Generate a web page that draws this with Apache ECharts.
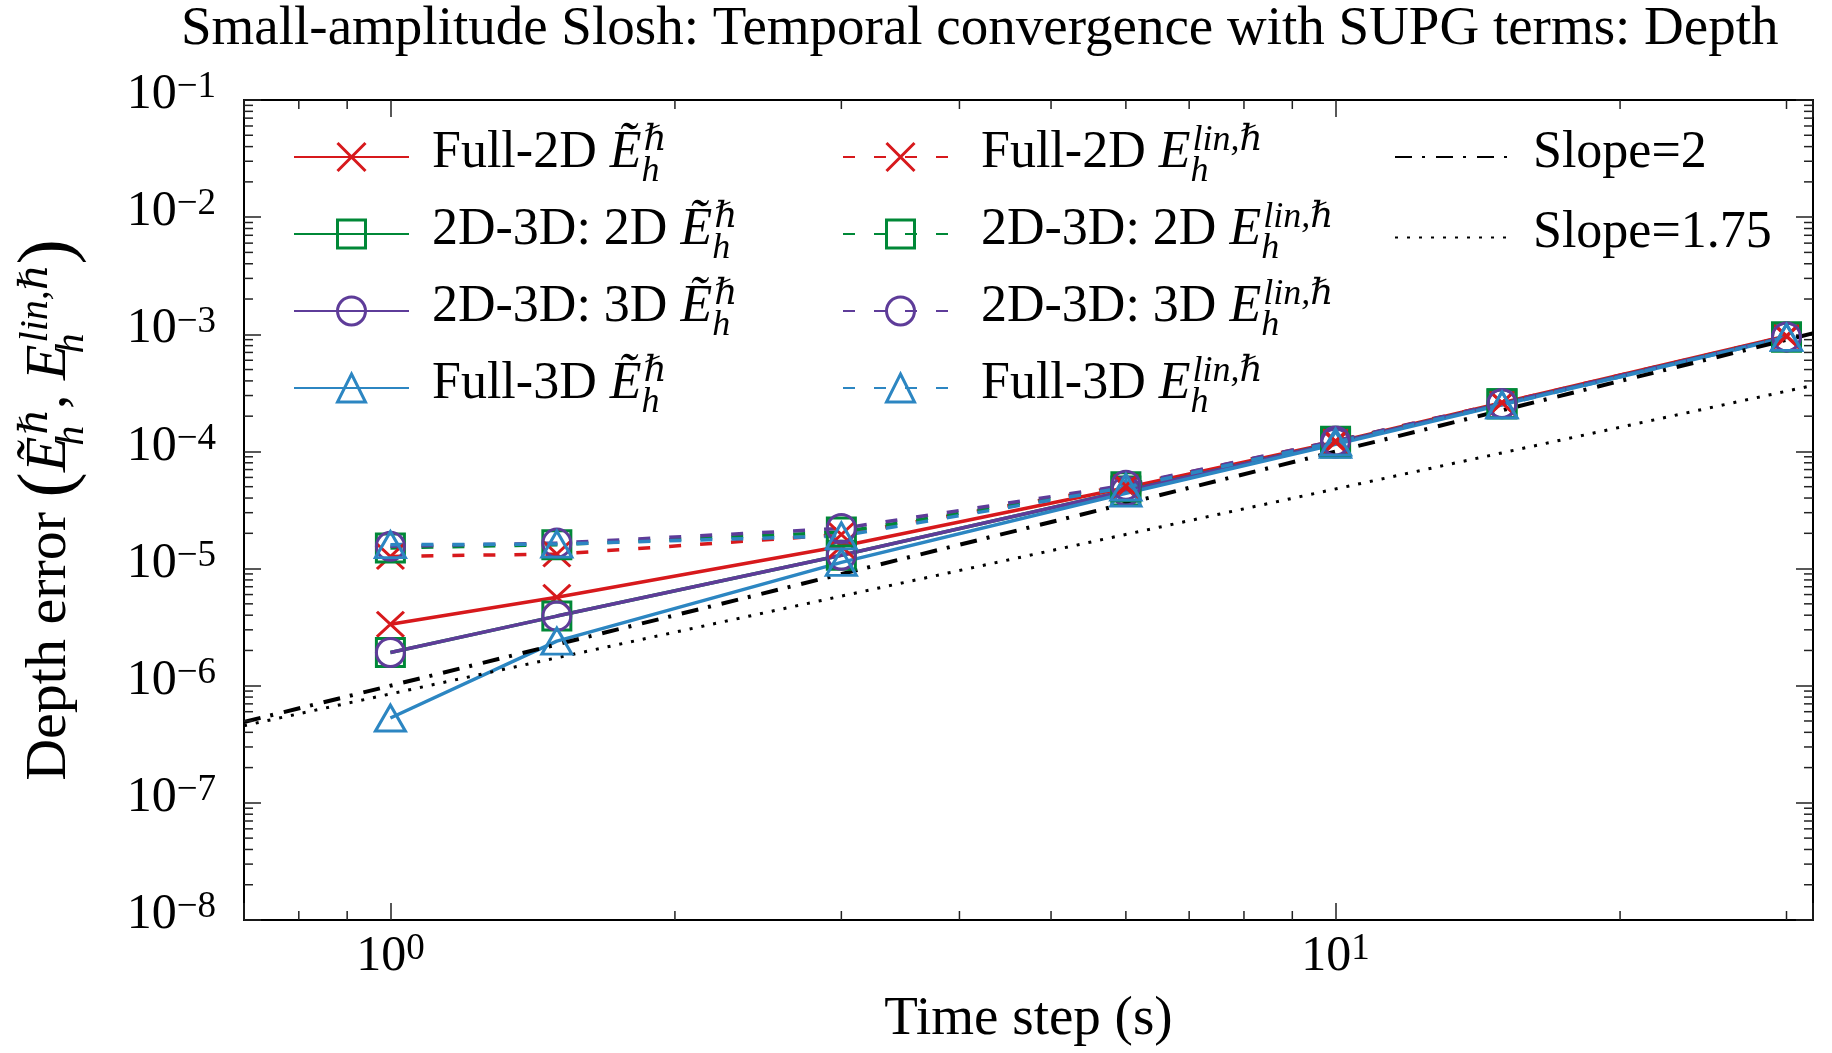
<!DOCTYPE html>
<html>
<head>
<meta charset="utf-8">
<script src="https://cdn.jsdelivr.net/npm/echarts@6/dist/echarts.min.js"></script>
<style>
  html, body { margin: 0; padding: 0; background: #fff; }
  #chart { width: 1832px; height: 1053px; }
</style>
</head>
<body>
<div id="chart"></div>
<script>
// time steps (s) and depth errors
const timeSteps = [1, 1.5, 3, 6, 10, 15, 30];
const full2dTilde = [3.35e-6, 5.7e-6, 1.55e-5, 4.9e-5, 1.2e-4, 2.6e-4, 9.7e-4];
const d2d3of2dTilde = [1.92e-6, 3.93e-6, 1.3e-5, 4.6e-5, 1.18e-4, 2.55e-4, 9.5e-4];
const d2d3of3dTilde = [1.92e-6, 3.93e-6, 1.3e-5, 4.6e-5, 1.18e-4, 2.55e-4, 9.5e-4];
const full3dTilde = [5.3e-7, 2.4e-6, 1.13e-5, 4.4e-5, 1.15e-4, 2.5e-4, 9.4e-4];
const full2dLin = [1.27e-5, 1.33e-5, 1.95e-5, 5.1e-5, 1.23e-4, 2.6e-4, 9.6e-4];
const d2d3of2dLin = [1.5e-5, 1.6e-5, 2.05e-5, 5.0e-5, 1.22e-4, 2.55e-4, 9.5e-4];
const d2d3of3dLin = [1.55e-5, 1.65e-5, 2.2e-5, 5.15e-5, 1.23e-4, 2.57e-4, 9.5e-4];
const full3dLin = [1.6e-5, 1.62e-5, 1.9e-5, 4.95e-5, 1.2e-4, 2.5e-4, 9.4e-4];
// reference slope lines, end points
const slope2Ends = [[0.7, 4.9e-7], [32, 1.02e-3]];
const slope175Ends = [[0.7, 4.56e-7], [32, 3.66e-4]];

// ticks
const xTickExponents = [0, 1];
const yTickExponents = [-8, -7, -6, -5, -4, -3, -2, -1];
const xMinorTicks = [0.8, 0.9, 2, 3, 4, 5, 6, 7, 8, 9, 20, 30];
const minorMantissas = [2, 3, 4, 5, 6, 7, 8, 9];
const yDecades = [-8, -7, -6, -5, -4, -3, -2];
const yMinorTicks = yDecades.flatMap(d => minorMantissas.map(m => m * Math.pow(10, d)));

const X_MIN = 0.7, X_MAX = 32, Y_MIN = 1e-8, Y_MAX = 1e-1;
const FONT = "'Liberation Serif', 'DejaVu Serif', serif";
const RED = '#d7191c', GREEN = '#008837', PURPLE = '#5e3c99', BLUE = '#2c86c2';
const X_PATH = 'path://M0,0L10,10M10,0L0,10';
const DASH = [12, 19];
const LW = 3.5;

const seriesDefs = [
  { name: 'Full-2D Ẽh', text: 'Full-2D ', e: 'Ẽ', sup: 'ℏ', values: full2dTilde, color: RED, symbol: X_PATH, size: [27, 25], dash: 'solid' },
  { name: '2D-3D: 2D Ẽh', text: '2D-3D: 2D ', e: 'Ẽ', sup: 'ℏ', values: d2d3of2dTilde, color: GREEN, symbol: 'rect', size: 28, dash: 'solid' },
  { name: '2D-3D: 3D Ẽh', text: '2D-3D: 3D ', e: 'Ẽ', sup: 'ℏ', values: d2d3of3dTilde, color: PURPLE, symbol: 'circle', size: 28, dash: 'solid' },
  { name: 'Full-3D Ẽh', text: 'Full-3D ', e: 'Ẽ', sup: 'ℏ', values: full3dTilde, color: BLUE, symbol: 'triangle', size: [30, 26], dash: 'solid' },
  { name: 'Full-2D Elin', text: 'Full-2D ', e: 'E', sup: 'lin,ℏ', values: full2dLin, color: RED, symbol: X_PATH, size: [27, 25], dash: DASH },
  { name: '2D-3D: 2D Elin', text: '2D-3D: 2D ', e: 'E', sup: 'lin,ℏ', values: d2d3of2dLin, color: GREEN, symbol: 'rect', size: 28, dash: DASH },
  { name: '2D-3D: 3D Elin', text: '2D-3D: 3D ', e: 'E', sup: 'lin,ℏ', values: d2d3of3dLin, color: PURPLE, symbol: 'circle', size: 28, dash: DASH },
  { name: 'Full-3D Elin', text: 'Full-3D ', e: 'E', sup: 'lin,ℏ', values: full3dLin, color: BLUE, symbol: 'triangle', size: [30, 26], dash: DASH }
];

// rich text pieces for E with sub/superscripts (sub has tiny width so sup stacks over it)
const mathRich = {
  g: { width: 18, lineHeight: 74, verticalAlign: 'top', fontSize: 10 },
  t: { fontFamily: FONT, fontSize: 52, height: 66, lineHeight: 64, verticalAlign: 'top', color: '#000' },
  e: { fontFamily: FONT, fontSize: 52, height: 66, lineHeight: 64, verticalAlign: 'top', fontStyle: 'italic', color: '#000' },
  sup: { fontFamily: FONT, fontSize: 36, height: 42, lineHeight: 42, verticalAlign: 'top', fontStyle: 'italic', color: '#000' },
  sub: { fontFamily: FONT, fontSize: 36, height: 45, lineHeight: 45, verticalAlign: 'bottom', fontStyle: 'italic', color: '#000', width: 2 }
};
const nameRich = {
  g: { width: 0, lineHeight: 80, verticalAlign: 'top', fontSize: 10 },
  t: { fontFamily: FONT, fontSize: 58, height: 58, lineHeight: 70, verticalAlign: 'top', color: '#000' },
  p: { fontFamily: FONT, fontSize: 76, height: 58, lineHeight: 70, verticalAlign: 'top', color: '#000' },
  e: { fontFamily: FONT, fontSize: 58, height: 58, lineHeight: 70, verticalAlign: 'top', fontStyle: 'italic', color: '#000' },
  sup: { fontFamily: FONT, fontSize: 40, height: 30, lineHeight: 30, verticalAlign: 'top', fontStyle: 'italic', color: '#000' },
  sub: { fontFamily: FONT, fontSize: 40, height: 58, lineHeight: 58, verticalAlign: 'bottom', fontStyle: 'italic', color: '#000', width: 2 }
};

const legendText = {};
seriesDefs.forEach(s => {
  legendText[s.name] = '{g| }{t|' + s.text + '}{e|' + s.e + '}{sub|h}{sup|' + s.sup + '}';
});
legendText['Slope=2'] = '{g| }{t|Slope=2}';
legendText['Slope=1.75'] = '{g| }{t|Slope=1.75}';

function tickLabel(exps) {
  return v => {
    const e = Math.round(Math.log10(v));
    if (Math.abs(Math.log10(v) - e) > 1e-6 || exps.indexOf(e) < 0) return '';
    return '{b|10}{s|' + (e < 0 ? '−' + (-e) : String(e)) + '}';
  };
}
const tickRich = {
  b: { fontFamily: FONT, fontSize: 50, lineHeight: 52, color: '#000' },
  s: { fontFamily: FONT, fontSize: 37, lineHeight: 26, verticalAlign: 'top', color: '#000' }
};

const axisLine = { show: true, lineStyle: { color: '#000', width: 2 } };
const majorTick = { show: true, inside: true, length: 17, lineStyle: { color: '#222', width: 1.5 } };
const tickStyle = { stroke: '#222', lineWidth: 1.5 };
const MINOR_LEN = 9;

const chart = echarts.init(document.getElementById('chart'));

const allSeries = seriesDefs.map(s => ({
  name: s.name,
  type: 'line',
  data: timeSteps.map((x, i) => [x, s.values[i]]),
  symbol: s.symbol,
  symbolSize: s.size,
  showAllSymbol: true,
  lineStyle: { color: s.color, width: LW, type: s.dash },
  itemStyle: { color: 'rgba(0,0,0,0)', borderColor: s.color, borderWidth: 3 },
  emphasis: { disabled: true },
  z: 3
}));

allSeries.push({
  name: 'Slope=2', type: 'line', data: slope2Ends, symbol: 'none',
  lineStyle: { color: '#000', width: 4, type: [17, 10, 3, 11] },
  itemStyle: { color: '#000' }, emphasis: { disabled: true }, z: 3
});
allSeries.push({
  name: 'Slope=1.75', type: 'line', data: slope175Ends, symbol: 'none',
  lineStyle: { color: '#000', width: 3, type: [3, 9] },
  itemStyle: { color: '#000' }, emphasis: { disabled: true }, z: 3
});

// minor ticks on all four sides
allSeries.push({
  type: 'custom', silent: true, z: 4,
  data: xMinorTicks.map(v => [v, Y_MIN]),
  renderItem: (params, api) => {
    const v = api.value(0);
    const b = api.coord([v, Y_MIN]);
    const t = api.coord([v, Y_MAX]);
    return { type: 'group', children: [
      { type: 'line', shape: { x1: b[0], y1: b[1], x2: b[0], y2: b[1] - MINOR_LEN }, style: tickStyle },
      { type: 'line', shape: { x1: t[0], y1: t[1], x2: t[0], y2: t[1] + MINOR_LEN }, style: tickStyle }
    ]};
  }
});
allSeries.push({
  type: 'custom', silent: true, z: 4,
  data: yMinorTicks.map(v => [X_MIN, v]),
  renderItem: (params, api) => {
    const v = api.value(1);
    const l = api.coord([X_MIN, v]);
    const r = api.coord([X_MAX, v]);
    return { type: 'group', children: [
      { type: 'line', shape: { x1: l[0], y1: l[1], x2: l[0] + MINOR_LEN, y2: l[1] }, style: tickStyle },
      { type: 'line', shape: { x1: r[0], y1: r[1], x2: r[0] - MINOR_LEN, y2: r[1] }, style: tickStyle }
    ]};
  }
});

function legendData(names) {
  return names.map(n => {
    const d = seriesDefs.find(s => s.name === n);
    if (d) return { name: n, itemStyle: { color: 'rgba(0,0,0,0)', borderColor: d.color, borderWidth: 3 } };
    return { name: n, itemStyle: { color: 'rgba(0,0,0,0)', borderColor: 'rgba(0,0,0,0)', borderWidth: 0 } };
  });
}
const legendBase = {
  orient: 'vertical', top: 120, padding: 0, itemGap: 3,
  itemWidth: 115, itemHeight: 35, selectedMode: false,
  formatter: name => legendText[name],
  textStyle: { rich: mathRich }
};

const option = {
  animation: false,
  backgroundColor: '#fff',
  title: {
    text: 'Small-amplitude Slosh: Temporal convergence with SUPG terms: Depth',
    left: 181, top: 2, padding: 0,
    textStyle: { fontFamily: FONT, fontSize: 55, lineHeight: 55, fontWeight: 'normal', color: '#000' }
  },
  legend: [
    Object.assign({}, legendBase, { left: 293, data: legendData(seriesDefs.slice(0, 4).map(s => s.name)) }),
    Object.assign({}, legendBase, { left: 842, data: legendData(seriesDefs.slice(4, 8).map(s => s.name)) }),
    Object.assign({}, legendBase, { left: 1394, itemGap: 14.5, data: legendData(['Slope=2', 'Slope=1.75']) })
  ],
  grid: { left: 244, top: 100, right: 19, bottom: 133, outerBoundsMode: 'none', containLabel: false },
  xAxis: [
    {
      type: 'log', min: X_MIN, max: X_MAX, position: 'bottom',
      name: 'Time step (s)', nameLocation: 'middle', nameGap: 72,
      nameTextStyle: { fontFamily: FONT, fontSize: 55, lineHeight: 55, color: '#000' },
      axisLine, axisTick: majorTick, splitLine: { show: false }, minorTick: { show: false },
      axisLabel: { margin: 11, formatter: tickLabel(xTickExponents), rich: tickRich, showMinLabel: true, showMaxLabel: true, hideOverlap: false }
    },
    {
      type: 'log', min: X_MIN, max: X_MAX, position: 'top',
      axisLine, axisTick: majorTick, splitLine: { show: false }, axisLabel: { show: false }
    }
  ],
  yAxis: [
    {
      type: 'log', min: Y_MIN, max: Y_MAX, position: 'left',
      name: '{g| }{t|Depth error }{p|(}{e|Ẽ}{sub|h}{sup|ℏ}{t|, }{e|E}{sub|h}{sup|lin,ℏ}{p|)}',
      nameLocation: 'middle', nameRotate: 90, nameGap: 143,
      nameTextStyle: { rich: nameRich },
      axisLine, axisTick: majorTick, splitLine: { show: false }, minorTick: { show: false },
      axisLabel: { margin: 28, padding: [0, 0, 10, 0], formatter: tickLabel(yTickExponents), rich: tickRich, showMinLabel: true, showMaxLabel: true, hideOverlap: false }
    },
    {
      type: 'log', min: Y_MIN, max: Y_MAX, position: 'right',
      axisLine, axisTick: majorTick, splitLine: { show: false }, axisLabel: { show: false }
    }
  ],
  series: allSeries
};
chart.setOption(option);
</script>
</body>
</html>
